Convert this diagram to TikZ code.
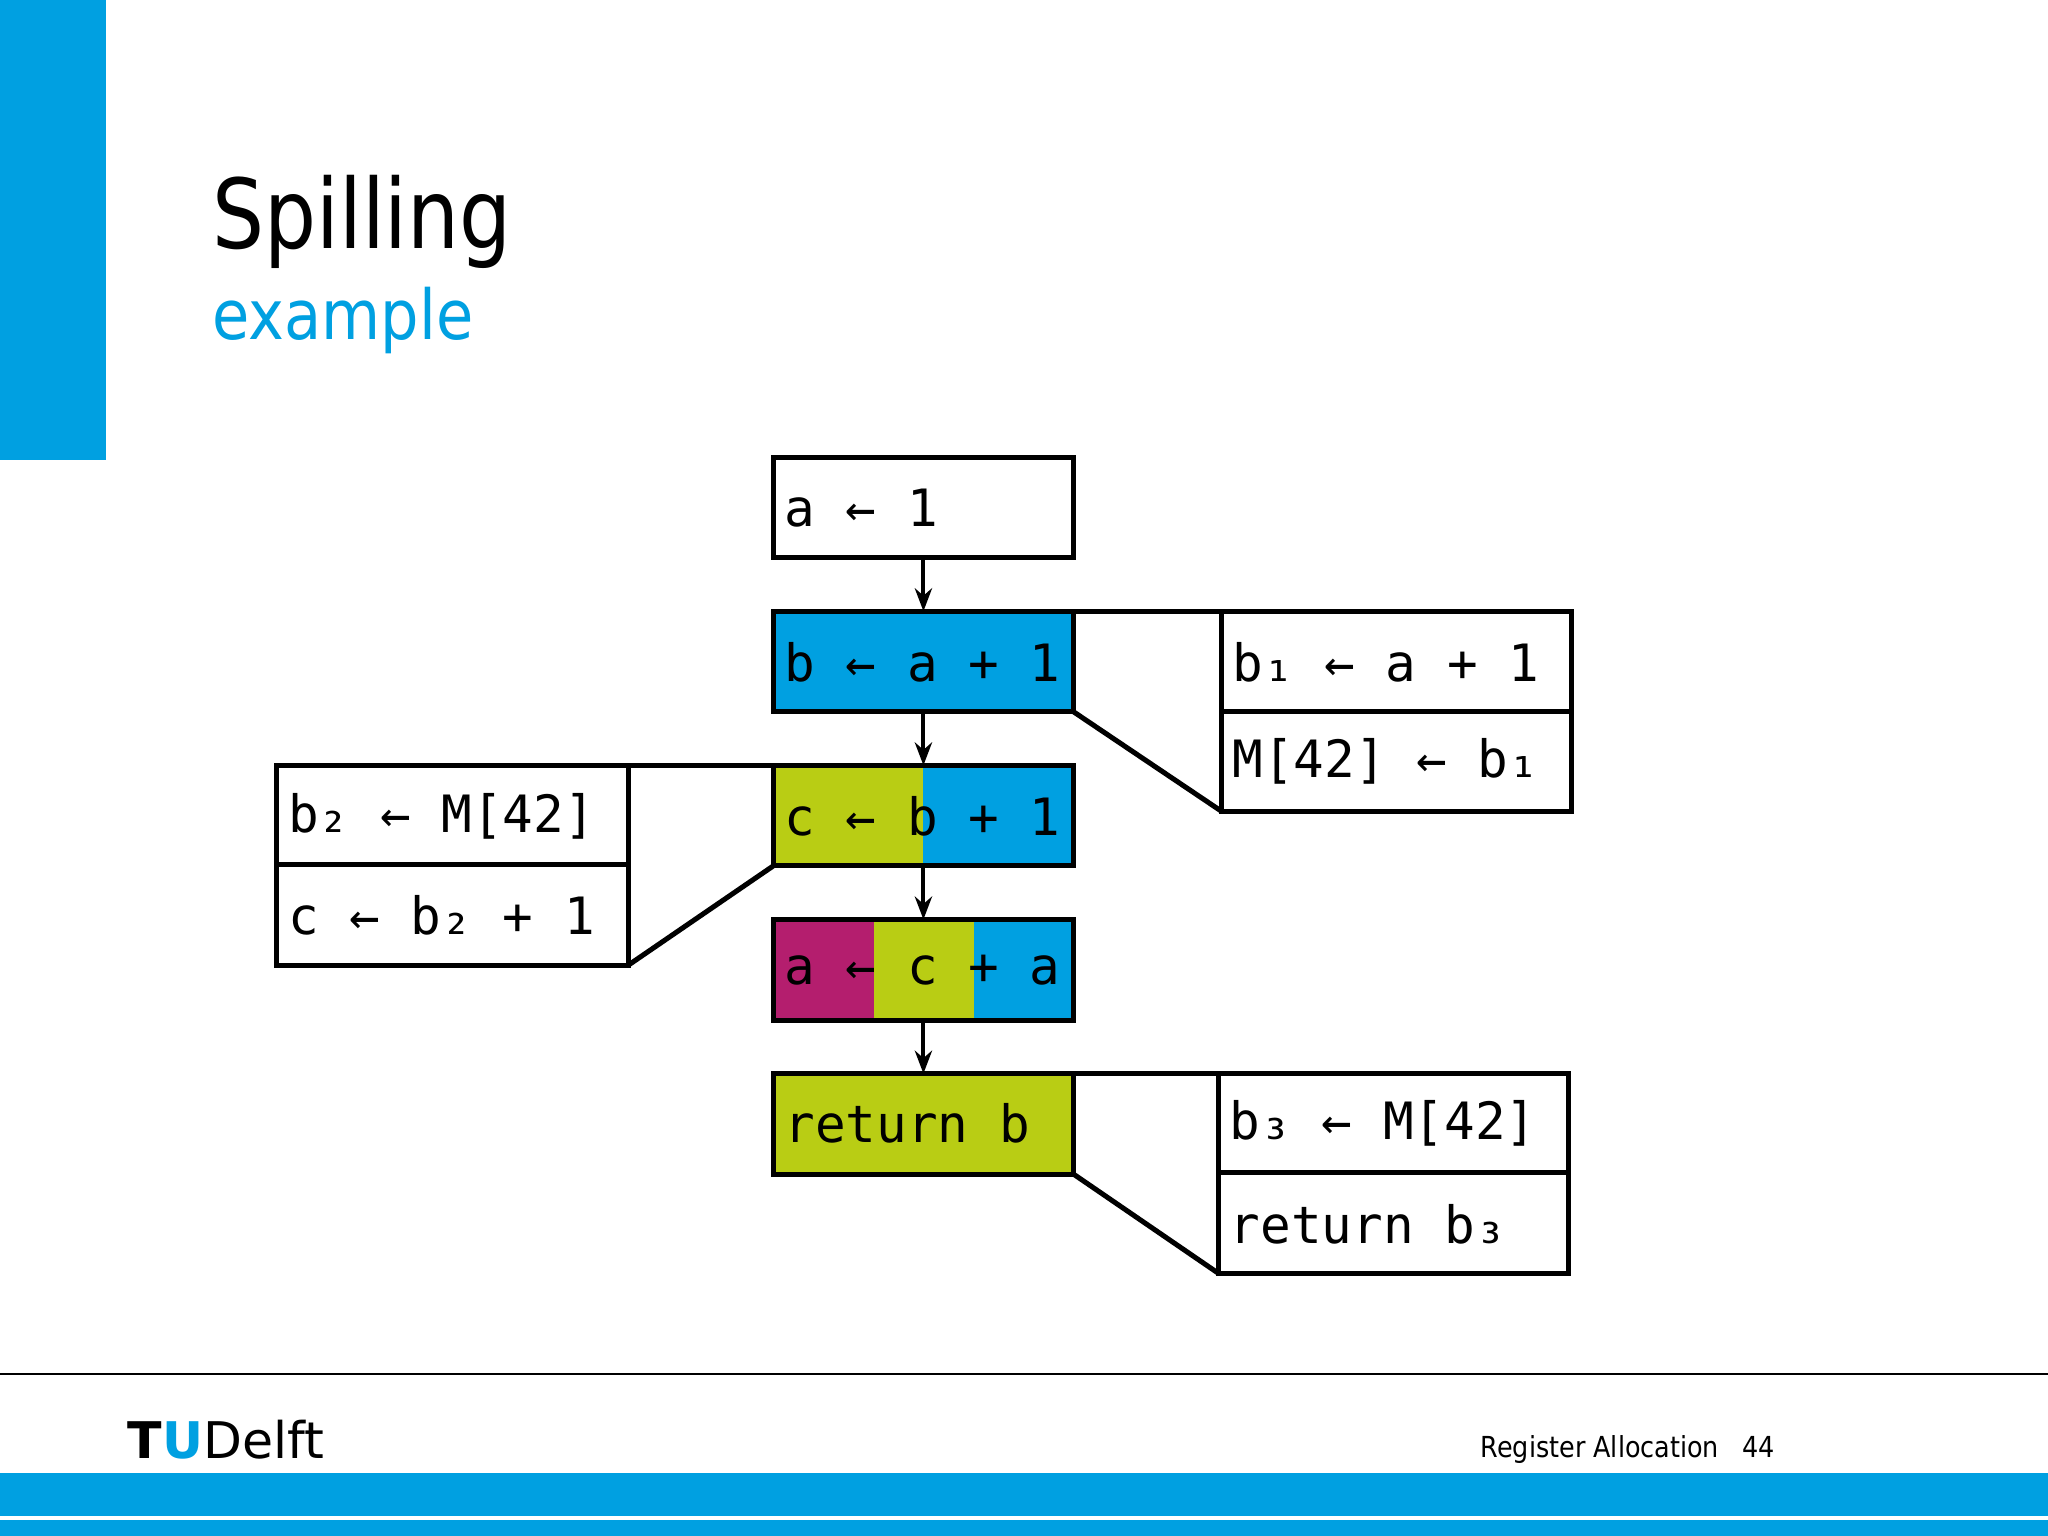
\documentclass[tikz,border=0pt]{standalone}
\usepackage{fontspec}
\setmainfont{DejaVu Sans}
\newfontfamily\monof{DejaVu Sans Mono}
\definecolor{tublue}{RGB}{0,160,225}
\definecolor{tugreen}{RGB}{185,205,20}
\definecolor{tumag}{RGB}{180,30,110}
\tikzset{
 box/.style={draw=black,line width=1.1pt},
 code/.style={anchor=west,inner sep=0pt,xscale=0.99,font=\monof\fontsize{11.2}{12}\selectfont},
 link/.style={line width=1.1pt},
 arr/.style={-{Stealth[length=5pt]},line width=0.9pt}
}
\usetikzlibrary{arrows.meta}
\begin{document}
\begin{tikzpicture}[x=0.01cm,y=-0.01cm]
\useasboundingbox (0,0) rectangle (1568,1176);
\fill[tublue] (0,0) rectangle (81,352);
\node[anchor=base west,inner sep=0pt,font=\fontsize{21}{24}\selectfont,xscale=0.85] (title) at (162,190) {Spilling};
\node[anchor=base west,inner sep=0pt,font=\fontsize{15}{18}\selectfont,text=tublue,xscale=0.88] (sub) at (162,260) {example};
% main boxes
\draw[box] (592,350) rectangle (822,427);
\node[code] (t1) at (600,389) {a ← 1};
\fill[tublue] (592,468) rectangle (822,545);
\draw[box] (592,468) rectangle (822,545);
\node[code] (t2) at (600,507) {b ← a + 1};
\fill[tugreen] (592,586) rectangle (707,663);
\fill[tublue] (707,586) rectangle (822,663);
\draw[box] (592,586) rectangle (822,663);
\node[code] (t3) at (600,625) {c ← b + 1};
\fill[tumag] (592,704) rectangle (669,781);
\fill[tugreen] (669,704) rectangle (746,781);
\fill[tublue] (746,704) rectangle (822,781);
\draw[box] (592,704) rectangle (822,781);
\node[code] (t4) at (600,743) {a ← c + a};
\fill[tugreen] (592,822) rectangle (822,899);
\draw[box] (592,822) rectangle (822,899);
\node[code] (t5) at (600,860) {return b};
% arrows
\coordinate (a1) at (707,427); \coordinate (a2) at (707,468);
\coordinate (a3) at (707,545); \coordinate (a4) at (707,586);
\coordinate (a5) at (707,663); \coordinate (a6) at (707,704);
\coordinate (a7) at (707,781); \coordinate (a8) at (707,822);
\draw[arr] (a1) -- (a2); \draw[arr] (a3) -- (a4);
\draw[arr] (a5) -- (a6); \draw[arr] (a7) -- (a8);
% right box 1
\draw[box] (935,468) rectangle (1203,621); \draw[box] (935,545) -- (1203,545);
\node[code] (r1) at (943,507) {b₁ ← a + 1};
\node[code] (r2) at (943,583) {M[42] ← b₁};
\coordinate (p1) at (822,468); \coordinate (q1) at (935,468);
\coordinate (p2) at (822,545); \coordinate (q2) at (935,621);
\draw[link] (p1) -- (q1); \draw[link] (p2) -- (q2);
% left box
\draw[box] (212,586) rectangle (481,739); \draw[box] (212,662) -- (481,662);
\node[code] (l1) at (220,625) {b₂ ← M[42]};
\node[code] (l2) at (220,701) {c ← b₂ + 1};
\coordinate (p3) at (481,586); \coordinate (q3) at (592,586);
\coordinate (p4) at (481,739); \coordinate (q4) at (592,663);
\draw[link] (p3) -- (q3); \draw[link] (p4) -- (q4);
% right box 2
\draw[box] (933,822) rectangle (1201,975); \draw[box] (933,898) -- (1201,898);
\node[code] (s1) at (941,860) {b₃ ← M[42]};
\node[code] (s2) at (941,937) {return b₃};
\coordinate (p5) at (822,822); \coordinate (q5) at (933,822);
\coordinate (p6) at (822,899); \coordinate (q6) at (933,975);
\draw[link] (p5) -- (q5); \draw[link] (p6) -- (q6);
% footer
\draw[line width=0.6pt] (0,1052) -- (1568,1052);
\node[anchor=base west,inner sep=0pt,font=\fontsize{11}{12}\selectfont\bfseries] (logo) at (97,1117) {T\textcolor{tublue}{U}\mdseries Delft};
\node[anchor=base west,inner sep=0pt,xscale=0.88,font=\fontsize{6.3}{8}\selectfont] (foot) at (1133,1116) {Register Allocation\hspace{0.9em}44};
\fill[tublue] (0,1128) rectangle (1568,1176);
\draw[white,line width=0.8pt] (0,1162) -- (1568,1162);
\end{tikzpicture}
\end{document}
